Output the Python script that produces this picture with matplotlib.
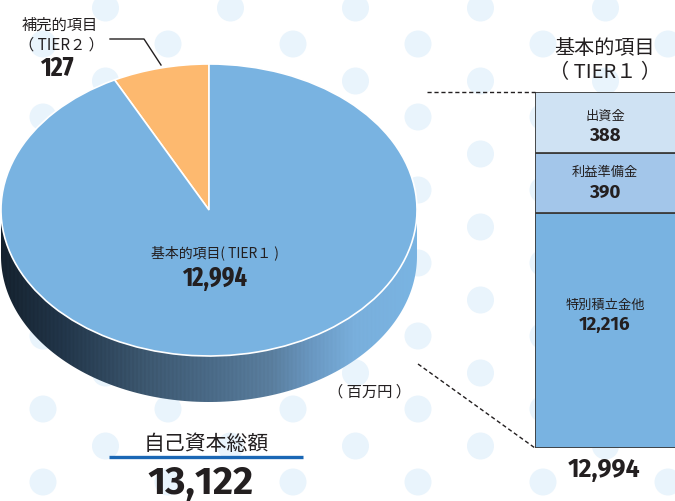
import numpy as np
import matplotlib
matplotlib.use("Agg")
import matplotlib.pyplot as plt
from matplotlib.patches import Polygon, Circle
from matplotlib.colors import LinearSegmentedColormap

plt.rcParams['font.family'] = ['Noto Sans CJK JP', 'DejaVu Sans']

W, H = 675, 502
NUM_NARROW = ['Fira Sans Extra Condensed', 'DejaVu Sans']
NUM_FONT = ['Fira Sans', 'DejaVu Sans']
INK = "#231f20"

# ── data ────────────────────────────────────────────────────────────────
pie_values = [127, 12994]                  # TIER2, TIER1 (百万円)
pie_drawn_share = [7.5, 92.5]              # slice sizes as drawn (not to scale)
pie_colors = ["#fdb96f", "#79b3e1"]

tier1_items = ["特別積立金他", "利益準備金", "出資金"]
tier1_values = [12216, 390, 388]
tier1_drawn_share = [66.0, 17.0, 17.0]     # segment heights as drawn (not to scale)
tier1_colors = ["#79b3e1", "#a3c6ea", "#cfe2f3"]

total_capital = 13122

# ── layout (pixels) ─────────────────────────────────────────────────────
PIE_L, PIE_R, PIE_T, PIE_B = 1, 417, 65, 357
DEPTH = 46
BAR_L, BAR_T, BAR_B = 535, 93, 449

fig = plt.figure(figsize=(W / 100, H / 100), dpi=100)

# background dots
bg = fig.add_axes([0, 0, 1, 1])
bg.set_xlim(0, W); bg.set_ylim(H, 0); bg.axis("off")
for k in range(-1, 12):
    x = 43 + 62.5 * k
    y0 = 45 if k % 2 == 0 else 9
    for n in range(-1, 8):
        bg.add_patch(Circle((x, y0 + 73 * n), 13.5, color="#e9f4fc", lw=0))

# 3D pie
d = DEPTH / ((PIE_B - PIE_T) / 2)
pax = fig.add_axes([PIE_L / W, (H - PIE_B - DEPTH) / H,
                    (PIE_R - PIE_L) / W, (PIE_B + DEPTH - PIE_T) / H])
t = np.linspace(np.pi, 2 * np.pi, 300)
top = np.column_stack([np.cos(t), np.sin(t)])
side = np.vstack([top, (top - [0, d])[::-1]])
side_patch = Polygon(side, closed=True, fc="none", ec="none")
pax.add_patch(side_patch)

side_cmap = LinearSegmentedColormap.from_list("side", [
    (0.00, "#15222f"), (0.15, "#22364a"), (0.35, "#3d5870"), (0.50, "#4a6a87"),
    (0.65, "#5a7e9e"), (0.75, "#6a98c2"), (0.85, "#79afdc"), (1.00, "#7ab4e2")])
ncol = 420
grad = np.linspace(0, 1, ncol)
rgb = side_cmap(grad)[:, :3]
stripe = 1 + 0.06 * (((np.arange(ncol) // 2) % 2) - 0.5) * (1 - grad)
rgb = np.clip(rgb * stripe[:, None], 0, 1)
img = np.repeat(rgb[None, :, :], 2, axis=0)
im = pax.imshow(img, extent=(-1, 1, -1 - d, 0), aspect="auto",
                interpolation="bilinear", zorder=1)
im.set_clip_path(side_patch)

wedges, _ = pax.pie(pie_drawn_share, colors=pie_colors, startangle=90,
                    counterclock=True, radius=1,
                    wedgeprops=dict(edgecolor="white", linewidth=1.2))
for w in wedges:
    w.set_zorder(2)
    w.set_clip_on(False)
pax.set_aspect("auto")
pax.set_xlim(-1, 1); pax.set_ylim(-1 - d, 1)
pax.axis("off")

# stacked bar of TIER1
bax = fig.add_axes([BAR_L / W, (H - BAR_B) / H, (W - BAR_L) / W, (BAR_B - BAR_T) / H])
bottoms = np.concatenate([[0], np.cumsum(tier1_drawn_share)[:-1]])
bax.bar([0] * 3, tier1_drawn_share, bottom=bottoms, width=1.3, align="edge",
        color=tier1_colors, edgecolor="#3c3c3c", linewidth=1.3)
bax.set_xlim(0, 1); bax.set_ylim(0, sum(tier1_drawn_share))
bax.axis("off")

# overlay: text and lines
ax = fig.add_axes([0, 0, 1, 1])
ax.set_xlim(0, W); ax.set_ylim(H, 0); ax.axis("off")

# pie labels
ax.text(215, 253, "基本的項目( TIER１ )", fontsize=10, color=INK, ha="center", va="center")
ax.text(215, 278, f"{pie_values[1]:,}", fontsize=19, fontweight="bold", family=NUM_NARROW,
        color=INK, ha="center", va="center")
ax.text(60, 25, "補完的項目", fontsize=11, color=INK, ha="center", va="center")
ax.text(61, 45, "（ TIER２ ）", fontsize=11, color=INK, ha="center", va="center")
ax.text(57, 68, f"{pie_values[0]:,}", fontsize=20, fontweight="bold", family=NUM_NARROW,
        color=INK, ha="center", va="center")
ax.plot([110, 144, 161], [40, 40, 66], color=INK, lw=1)
ax.text(370, 392, "（ 百万円 ）", fontsize=11, color=INK, ha="center", va="center")

# total
ax.text(206, 444, "自己資本総額", fontsize=15, color=INK, ha="center", va="center")
ax.plot([109, 303], [458, 458], color="#1a67b5", lw=2.4, solid_capstyle="butt")
ax.text(201, 484, f"{total_capital:,}", fontsize=28, fontweight="bold", family=NUM_FONT,
        color=INK, ha="center", va="center")

# bar header and connectors
ax.text(605, 48, "基本的項目", fontsize=14.5, color=INK, ha="center", va="center")
ax.text(605, 73, "（ TIER１ ）", fontsize=14.5, color=INK, ha="center", va="center")
ax.plot([427, BAR_L], [BAR_T, BAR_T], color=INK, lw=1, ls=(0, (3, 2)))
ax.plot([418, BAR_L], [365, BAR_B], color=INK, lw=1, ls=(0, (3, 2)))

# bar segment labels (bottom -> top)
label_y = [305, 173, 116]
for name, val, y in zip(tier1_items, tier1_values, label_y):
    ax.text(605, y, name, fontsize=9.5, color=INK, ha="center", va="center")
    ax.text(605, y + 20, f"{val:,}", fontsize=13.5, fontweight="bold", family=NUM_FONT,
            color=INK, ha="center", va="center")
ax.text(604, 470, f"{sum(tier1_values):,}", fontsize=18, fontweight="bold",
        family=NUM_FONT, color=INK, ha="center", va="center")

fig.savefig("out.png", dpi=100)
